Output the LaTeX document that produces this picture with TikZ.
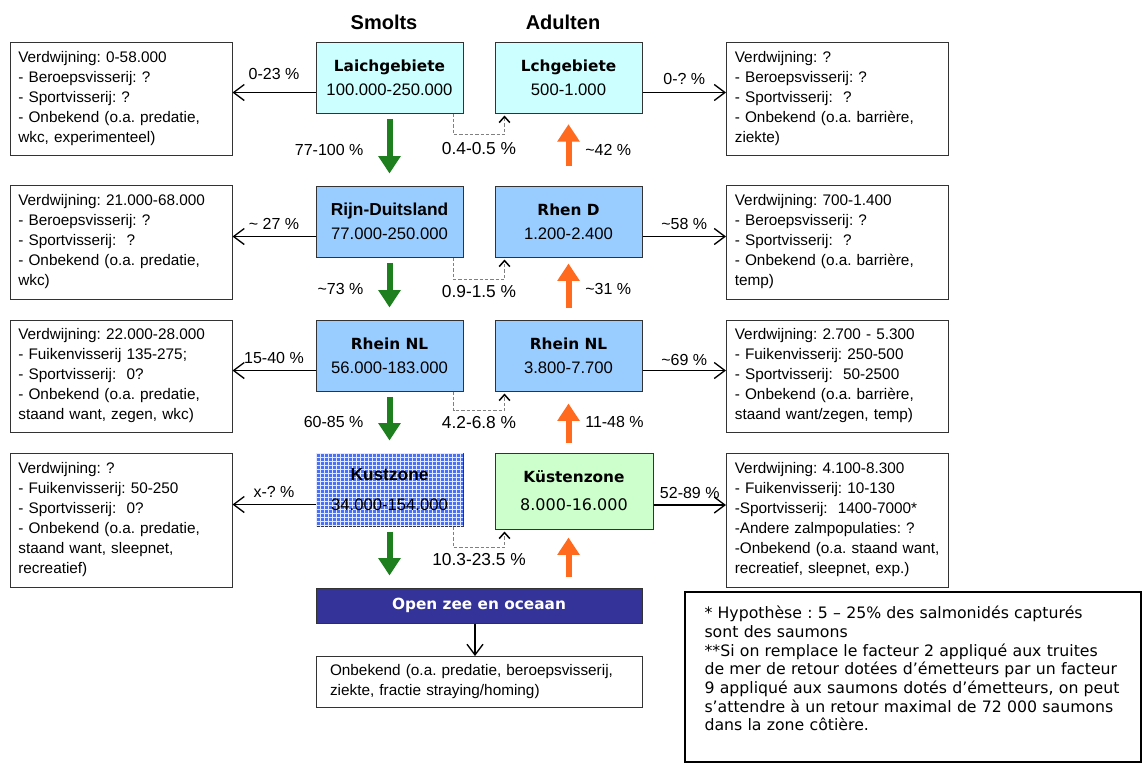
\documentclass[tikz,border=0pt]{standalone}
\usepackage{fontspec}
\setmainfont{Liberation Sans}
\newfontfamily\verdana{DejaVu Sans}
\usetikzlibrary{positioning, arrows.meta, patterns}
\frenchspacing

\definecolor{laichcyan}{HTML}{CCFFFF}
\definecolor{rijnblue}{HTML}{99CCFF}
\definecolor{kustblue}{HTML}{4A70F8}
\definecolor{kustgreen}{HTML}{CCFFCC}
\definecolor{zeenavy}{HTML}{333399}
\definecolor{smoltgreen}{HTML}{1E7F1E}
\definecolor{adultorange}{HTML}{FF6A1F}
\definecolor{boxgrey}{HTML}{333333}

\newcommand{\boxtitle}{\verdana\bfseries\fontsize{11.5}{14}\selectfont}
\newcommand{\boxtitlebig}{\bfseries\fontsize{13}{15}\selectfont}
\newcommand{\boxnum}{\normalfont\fontsize{12.5}{15}\selectfont}

\begin{document}
\begin{tikzpicture}[
		x=0.75pt, y=-0.75pt,
		mainbox/.style={draw=boxgrey, line width=0.75pt, minimum width=110.25pt, minimum height=53.25pt, align=center, inner sep=0pt},
		sidebox/.style={draw=boxgrey, line width=0.75pt, text width=154pt, inner xsep=6.25pt, align=left, font=\fontsize{11.5}{15}\selectfont},
		header/.style={font=\bfseries\fontsize{15}{17}\selectfont},
		pct/.style={font=\fontsize{12}{14}\selectfont},
		dashpct/.style={font=\fontsize{13}{15}\selectfont},
		sidearrow/.style={-{Straight Barb[length=8pt, width=12pt]}, line width=1pt},
		smoltarrow/.style={-{Triangle[length=13pt, width=16pt]}, line width=4.5pt, draw=smoltgreen, shorten <=4pt, shorten >=9pt},
		adultarrow/.style={-{Triangle[length=13pt, width=16pt]}, line width=4.5pt, draw=adultorange},
		dashconn/.style={draw=gray, line width=0.75pt, dash pattern=on 2.5pt off 1.5pt, -{Straight Barb[length=4.5pt, width=8pt, line width=1.1pt, black]}}
	]
	\useasboundingbox (0,0) rectangle (1144,765);

	% Nodes
	\node[header] (smolts) at (384,22) {Smolts};
	\node[header] (adulten) at (563,22) {Adulten};

	\node[mainbox, fill=laichcyan] (lai) at (389.5,77.5) {\boxtitle Laichgebiete\\[6pt]\boxnum 100.000-250.000};
	\node[mainbox, fill=laichcyan] (lch) at (568.5,77.5) {\boxtitle Lchgebiete\\[6pt]\boxnum 500-1.000};
	\node[mainbox, fill=rijnblue] (rijn) at (389.5,221.5) {\boxtitlebig Rijn-Duitsland\\[6pt]\boxnum 77.000-250.000};
	\node[mainbox, fill=rijnblue] (rhend) at (568.5,221.5) {\boxtitle Rhen D\\[6pt]\boxnum 1.200-2.400};
	\node[mainbox, fill=rijnblue] (rnls) at (389.5,355.5) {\boxtitle Rhein NL\\[6pt]\boxnum 56.000-183.000};
	\node[mainbox, fill=rijnblue] (rnla) at (568.5,355.5) {\boxtitle Rhein NL\\[6pt]\boxnum 3.800-7.700};
	\node[mainbox, minimum height=54.75pt, fill=kustblue, postaction={pattern=grid, pattern color=white!85!kustblue}] (kust) at (389.5,489.5) {\boxtitlebig Kustzone\\[11pt]\boxnum 34.000-154.000};
	\node[mainbox, minimum width=118.5pt, minimum height=57pt, fill=kustgreen] (kusten) at (574,491) {\boxtitle Küstenzone\\[9pt]\verdana\mdseries\fontsize{12}{14}\selectfont 8.000-16.000};
	\node[mainbox, minimum width=244.5pt, minimum height=26.25pt, fill=zeenavy, text=white] (zee) at (479,605.5) {\boxtitle Open zee en oceaan};
	\node[sidebox, text width=223.5pt, inner xsep=10.5pt, minimum height=38.25pt] (onb) at (479,682) {Onbekend (o.a. predatie, beroepsvisserij,\\ziekte, fractie straying/homing)};

	\node[sidebox, minimum height=84.75pt] (lb1) at (121,98.5) {Verdwijning: 0-58.000\\- Beroepsvisserij: ?\\- Sportvisserij: ?\\- Onbekend (o.a. predatie,\\wkc, experimenteel)};
	\node[sidebox, minimum height=85.5pt] (lb2) at (121,242) {Verdwijning: 21.000-68.000\\- Beroepsvisserij: ?\\- Sportvisserij: \ ?\\- Onbekend (o.a. predatie,\\wkc)};
	\node[sidebox, minimum height=84pt] (lb3) at (121,376) {Verdwijning: 22.000-28.000\\- Fuikenvisserij 135-275;\\- Sportvisserij: \ 0?\\- Onbekend (o.a. predatie,\\staand want, zegen, wkc)};
	\node[sidebox, minimum height=100.5pt] (lb4) at (121,520) {Verdwijning: ?\\- Fuikenvisserij: 50-250\\- Sportvisserij: \ 0?\\- Onbekend (o.a. predatie,\\staand want, sleepnet,\\recreatief)};

	\node[sidebox, minimum height=84.75pt] (rb1) at (837.5,98.5) {Verdwijning: ?\\- Beroepsvisserij: ?\\- Sportvisserij: \ ?\\- Onbekend (o.a. barrière,\\ziekte)};
	\node[sidebox, minimum height=85.5pt] (rb2) at (837.5,242) {Verdwijning: 700-1.400\\- Beroepsvisserij: ?\\- Sportvisserij: \ ?\\- Onbekend (o.a. barrière,\\temp)};
	\node[sidebox, minimum height=84pt] (rb3) at (837.5,376) {Verdwijning: 2.700 - 5.300\\- Fuikenvisserij: 250-500\\- Sportvisserij: \ 50-2500\\- Onbekend (o.a. barrière,\\staand want/zegen, temp)};
	\node[sidebox, minimum height=100.5pt] (rb4) at (837.5,520) {Verdwijning: 4.100-8.300\\- Fuikenvisserij: 10-130\\-Sportvisserij: \ 1400-7000*\\-Andere zalmpopulaties: ?\\-Onbekend (o.a. staand want,\\recreatief, sleepnet, exp.)};

	\node[draw=black, line width=1.1pt, minimum width=342pt, minimum height=127.5pt] (note) at (913,677) {};
	\node[anchor=north west, text width=335pt, inner sep=0pt, align=left, font=\verdana\fontsize{11.8}{14}\selectfont] (notetxt) at ([xshift=15pt, yshift=-11pt]note.north west) {* Hypothèse : 5 – 25\% des salmonidés capturés\\sont des saumons\\\relax**Si on remplace le facteur 2 appliqué aux truites\\de mer de retour dotées d’émetteurs par un facteur\\9 appliqué aux saumons dotés d’émetteurs, on peut\\s’attendre à un retour maximal de 72 000 saumons\\dans la zone côtière.};

	% Connections
	\coordinate (l1) at ([yshift=-11.25pt]lai.west);
	\coordinate (l2) at ([yshift=-11.25pt]rijn.west);
	\coordinate (l3) at ([yshift=-11.25pt]rnls.west);
	\coordinate (l4) at ([yshift=-11.25pt]kust.west);
	\coordinate (r1) at ([yshift=-11.25pt]lch.east);
	\coordinate (r2) at ([yshift=-11.25pt]rhend.east);
	\coordinate (r3) at ([yshift=-11.25pt]rnla.east);
	\coordinate (r4) at ([yshift=-10.5pt]kusten.east);

	\draw[sidearrow] (l1) -- node[pct, above=6pt] {0-23 \%} (l1 -| lb1.east);
	\draw[sidearrow] (l2) -- node[pct, above=1pt] {\textasciitilde\ 27 \%} (l2 -| lb2.east);
	\draw[sidearrow] (l3) -- node[pct, above=1pt] {15-40 \%} (l3 -| lb3.east);
	\draw[sidearrow] (l4) -- node[pct, above=1pt] {x-? \%} (l4 -| lb4.east);
	\draw[sidearrow] (r1) -- node[pct, above=2pt] {0-? \%} (r1 -| rb1.west);
	\draw[sidearrow] (r2) -- node[pct, above=1pt] {\textasciitilde58 \%} (r2 -| rb2.west);
	\draw[sidearrow] (r3) -- node[pct, above] {\textasciitilde69 \%} (r3 -| rb3.west);
	\draw[sidearrow] (r4) -- node[pct, above=1pt] {52-89 \%} (r4 -| rb4.west);

	\draw[smoltarrow] (lai) -- node[pct, left=14pt] {77-100 \%} (rijn);
	\draw[smoltarrow] (rijn) -- node[pct, left=14pt] {\textasciitilde73 \%} (rnls);
	\draw[smoltarrow] (rnls) -- node[pct, left=14pt] {60-85 \%} (kust);
	\draw[smoltarrow] (kust) -- (kust.south |- zee.north);

	\draw[adultarrow, shorten <=15pt, shorten >=8pt] (rhend) -- node[pct, right=7pt] {\textasciitilde42 \%} (lch);
	\draw[adultarrow, shorten <=9pt, shorten >=4.5pt] (rnla) -- node[pct, right=7pt] {\textasciitilde31 \%} (rhend);
	\draw[adultarrow, shorten <=7.5pt, shorten >=9pt] (rnla.south |- kusten.north) -- node[pct, right=7pt] {11-48 \%} (rnla.south);
	\draw[adultarrow, shorten <=8pt, shorten >=6pt] (rnla.south |- zee.north) -- (rnla.south |- kusten.south);

	\draw[dashconn] ([xshift=-7.5pt]lai.south east) -- ++(0,21) -| node[dashpct, pos=0.25, below=2pt] {0.4-0.5 \%} ([xshift=7.5pt, yshift=-1.5pt]lch.south west);
	\draw[dashconn] ([xshift=-7.5pt]rijn.south east) -- ++(0,22) -| node[dashpct, pos=0.25, below=1pt] {0.9-1.5 \%} ([xshift=7.5pt, yshift=-1.5pt]rhend.south west);
	\draw[dashconn] ([xshift=-7.5pt]rnls.south east) -- ++(0,19) -| node[dashpct, pos=0.25, below=1pt] {4.2-6.8 \%} ([xshift=7.5pt, yshift=-1.5pt]rnla.south west);
	\draw[dashconn] ([xshift=-7.5pt]kust.south east) -- ++(0,21) -| node[dashpct, pos=0.25, below=1pt] {10.3-23.5 \%} ([xshift=7.5pt, yshift=-1.5pt]kusten.south west);

	\draw[sidearrow] ([xshift=-3pt]zee.south) -- ([xshift=-3pt]onb.north);

\end{tikzpicture}
\end{document}
